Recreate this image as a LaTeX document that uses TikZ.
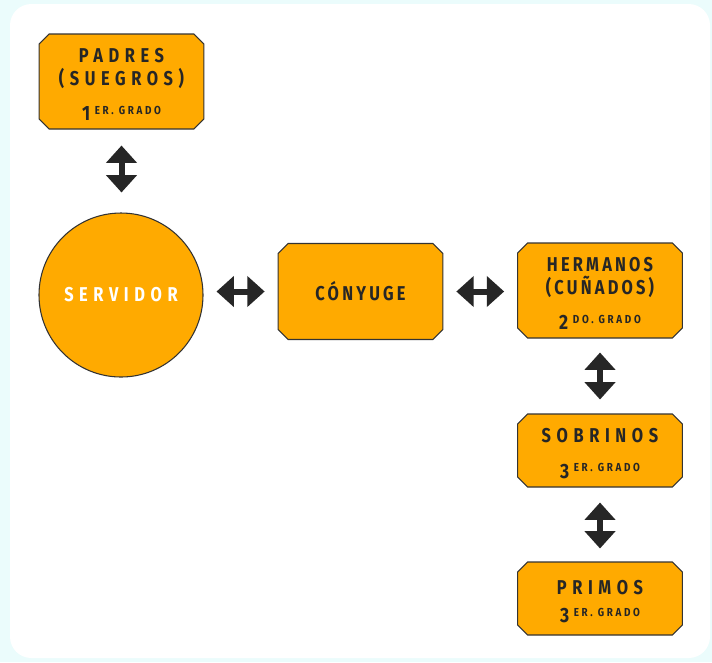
\documentclass[tikz,border=0pt]{standalone}
\usepackage{fontspec}
\setmainfont{Fira Sans}
\newfontfamily\wideF{Fira Sans}[LetterSpace=28,FakeStretch=0.82]
\newfontfamily\medF{Fira Sans}[LetterSpace=16,FakeStretch=0.82]
\newfontfamily\tinyF{Fira Sans}[LetterSpace=23,FakeStretch=0.85]
\newfontfamily\numF{Fira Sans}[FakeStretch=0.85]
\usetikzlibrary{shapes.misc,arrows.meta,calc}
\definecolor{bgc}{HTML}{EBFCFC}
\definecolor{boxc}{HTML}{FFAA00}
\definecolor{inkc}{HTML}{262626}
\definecolor{edgec}{HTML}{333333}
\newcommand\grado[2]{{\numF\fontsize{15.5}{17}\selectfont #1}\hspace{3.5pt}\raisebox{4.6pt}{\tinyF\fontsize{8.7}{9}\selectfont #2}}
\newcommand\topstrut{\rule{0pt}{15pt}}
\tikzset{
  obox/.style={chamfered rectangle, chamfered rectangle xsep=4pt, draw=edgec, line width=0.8pt,
    fill=boxc, text=inkc, align=center, inner sep=0pt,
    minimum width=123.5pt, font=\bfseries\fontsize{15}{17}\selectfont},
  cbox/.style={circle, draw=edgec, line width=0.8pt, fill=boxc, text=white, inner sep=0pt,
    minimum size=123pt, font=\bfseries\fontsize{15}{17}\selectfont},
  darr/.style={draw=inkc, line width=4.5pt,
    {Triangle[length=13pt,width=22.5pt]}-{Triangle[length=13pt,width=22.5pt]}}
}
\begin{document}
\begin{tikzpicture}[x=0.75pt,y=-0.75pt]
\useasboundingbox (0,0) rectangle (712,662);
\fill[bgc] (0,0) rectangle (712,662);
\fill[white, rounded corners=16pt] (10,4) rectangle (710,658);

\node[obox, minimum height=71.25pt] (padres) at (121.5,81.5)
  {\topstrut\wideF PADRES\\\wideF (SUEGROS)\\[9pt]\grado{1}{ER. GRADO}};
\node[cbox] (serv) at (121,295) {\wideF SERVIDOR};
\node[obox, minimum height=72pt] (cony) at (360.5,291.5) {\medF CÓNYUGE};
\node[obox, minimum height=71.25pt] (herm) at (600,290.5)
  {\topstrut\medF HERMANOS\\\medF (CUÑADOS)\\[9pt]\grado{2}{DO. GRADO}};
\node[obox, minimum height=54.75pt] (sobr) at (600,450.5)
  {\topstrut\wideF SOBRINOS\\[9.5pt]\grado{3}{ER. GRADO}};
\node[obox, minimum height=54.75pt] (prim) at (600,598.5)
  {\topstrut\wideF PRIMOS\\[4.5pt]\grado{3}{ER. GRADO}};

\draw[darr, shorten <=12pt, shorten >=15pt] (padres.south) -- (padres.south |- serv.north);
\draw[darr, shorten <=9.75pt, shorten >=9.75pt] (serv.east |- cony.west) -- (cony.west);
\draw[darr, shorten <=9.75pt, shorten >=9.75pt] (cony.east) -- (cony.east -| herm.west);
\draw[darr, shorten <=10.5pt, shorten >=10.5pt] (herm.south) -- (sobr.north);
\draw[darr, shorten <=11.25pt, shorten >=9.75pt] (sobr.south) -- (prim.north);
\end{tikzpicture}
\end{document}
